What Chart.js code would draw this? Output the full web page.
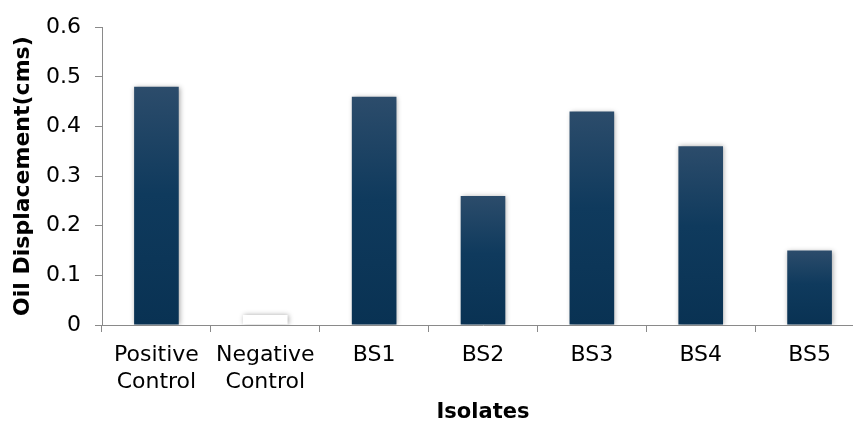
<!DOCTYPE html>
<html>
<head>
<meta charset="utf-8">
<script src="https://cdn.jsdelivr.net/npm/chart.js@4/dist/chart.umd.min.js"></script>
<style>
  html, body { margin: 0; padding: 0; background: #fff; overflow: hidden; }
  #wrap { width: 853px; height: 425px; overflow: hidden; }
  canvas { display: block; }
</style>
</head>
<body>
<div id="wrap"><canvas id="c" width="866" height="425" style="width:866px;height:425px"></canvas></div>
<script>
// Oil displacement test results per isolate
const categories = [["Positive", "Control"], ["Negative", "Control"], "BS1", "BS2", "BS3", "BS4", "BS5"];
const displacement = [0.48, 0.02, 0.46, 0.26, 0.43, 0.36, 0.15];
const yTicks = [0, 0.1, 0.2, 0.3, 0.4, 0.5, 0.6];

const axisGrey = '#8a8a8a';
const font = '"DejaVu Sans", Arial, sans-serif';

// Vertical gradient for each bar, running from its top down to the baseline
function barFill(ctx) {
  if (ctx.dataIndex === 1) return '#ffffff';
  const chart = ctx.chart;
  if (!chart.chartArea) return '#0d3656';
  const y = chart.scales.y;
  const top = y.getPixelForValue(ctx.raw);
  const bottom = y.getPixelForValue(0);
  const g = chart.ctx.createLinearGradient(0, top, 0, bottom);
  g.addColorStop(0, '#2c4c6b');
  g.addColorStop(0.45, '#0f3a5d');
  g.addColorStop(1, '#093253');
  return g;
}

// Soft drop shadow under the bars
const barShadow = {
  id: 'barShadow',
  beforeDatasetsDraw(chart) {
    const c = chart.ctx;
    c.save();
    c.shadowColor = 'rgba(0,0,0,0.35)';
    c.shadowBlur = 5;
    c.shadowOffsetX = 1;
    c.shadowOffsetY = 0;
  },
  afterDatasetsDraw(chart) {
    chart.ctx.restore();
  }
};

new Chart(document.getElementById('c'), {
  type: 'bar',
  data: {
    labels: categories,
    datasets: [{
      data: displacement,
      backgroundColor: barFill,
      borderWidth: 0,
      categoryPercentage: 1,
      barPercentage: 0.41
    }]
  },
  plugins: [barShadow],
  options: {
    responsive: false,
    animation: false,
    layout: { padding: { top: 16, right: 2, left: 0, bottom: 0 } },
    plugins: { legend: { display: false }, tooltip: { enabled: false } },
    scales: {
      y: {
        min: 0,
        max: 0.6,
        afterBuildTicks(scale) { scale.ticks = yTicks.map(v => ({ value: v })); },
        afterFit(scale) { scale.width = 102; },
        border: { color: axisGrey, width: 1 },
        grid: { drawOnChartArea: false, drawTicks: true, tickLength: 7, color: axisGrey },
        ticks: {
          color: '#000',
          padding: 14,
          font: { family: font, size: 22 },
          callback: v => (v === 0 ? '0' : v.toFixed(1))
        },
        title: {
          display: true,
          text: 'Oil Displacement(cms)',
          color: '#000',
          padding: { top: 10, bottom: 0 },
          font: { family: font, size: 22, weight: 'bold' }
        }
      },
      x: {
        afterFit(scale) { scale.height = 100; },
        border: { color: axisGrey, width: 1 },
        grid: { offset: true, drawOnChartArea: false, drawTicks: true, tickLength: 7, color: axisGrey },
        ticks: {
          color: '#000',
          padding: 10,
          maxRotation: 0,
          autoSkip: false,
          font: { family: font, size: 22, lineHeight: 1.23 }
        },
        title: {
          display: true,
          text: 'Isolates',
          color: '#000',
          padding: { top: 4, bottom: 0 },
          font: { family: font, size: 21, weight: 'bold' }
        }
      }
    }
  }
});
</script>
</body>
</html>
